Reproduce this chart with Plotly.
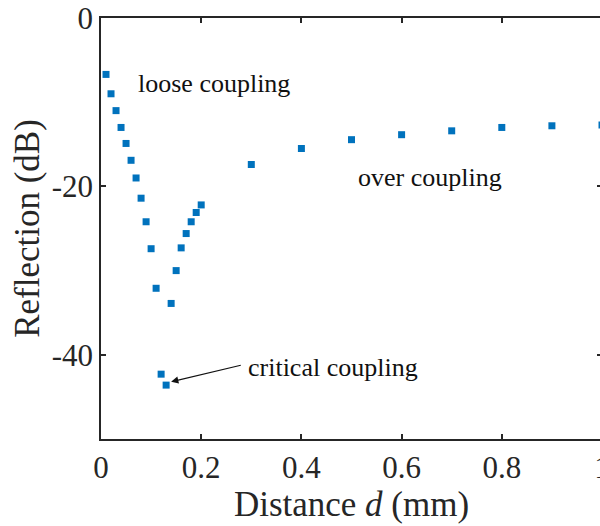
import plotly.graph_objects as go

distance = [0.01, 0.02, 0.03, 0.04, 0.05, 0.06, 0.07, 0.08, 0.09, 0.10,
            0.11, 0.12, 0.13, 0.14, 0.15, 0.16, 0.17, 0.18, 0.19, 0.20,
            0.3, 0.4, 0.5, 0.6, 0.7, 0.8, 0.9, 1.0]
reflection = [-6.7, -9.0, -11.0, -13.0, -14.9, -16.9, -19.0, -21.4, -24.2, -27.4,
              -32.1, -42.3, -43.6, -33.9, -30.0, -27.3, -25.6, -24.2, -23.1, -22.2,
              -17.4, -15.5, -14.45, -13.86, -13.4, -13.0, -12.8, -12.7]
x_ticks = [0, 0.2, 0.4, 0.6, 0.8, 1.0]
x_tick_text = ["0", "0.2", "0.4", "0.6", "0.8", "1"]
y_ticks = [0, -20, -40]
y_tick_text = ["0", "-20", "-40"]

font = "Liberation Serif, Times New Roman, serif"
axcol = "#262626"

fig = go.Figure()
fig.add_trace(go.Scatter(
    x=distance, y=reflection, mode="markers",
    marker=dict(symbol="square", size=7, color="#0072BD", line=dict(width=0)),
    showlegend=False, cliponaxis=False,
))

fig.add_annotation(x=0.070, y=-7.8, xref="x", yref="y", text="loose coupling",
                   showarrow=False, xanchor="left", yanchor="middle",
                   font=dict(family=font, size=26, color="#111111"))
fig.add_annotation(x=0.508, y=-18.9, xref="x", yref="y", text="over coupling",
                   showarrow=False, xanchor="left", yanchor="middle",
                   font=dict(family=font, size=26, color="#111111"))
fig.add_annotation(x=0.289, y=-41.5, xref="x", yref="y", text="critical coupling",
                   showarrow=False, xanchor="left", yanchor="middle",
                   font=dict(family=font, size=26, color="#111111"))
fig.add_annotation(x=0.14, y=-43.2, ax=0.282, ay=-41.2, xref="x", yref="y",
                   axref="x", ayref="y", text="", showarrow=True,
                   arrowhead=2, arrowsize=1.2, arrowwidth=1.2, arrowcolor="#111111")

fig.update_xaxes(range=[0, 1], tickvals=x_ticks, ticktext=x_tick_text,
                 ticks="inside", ticklen=5, tickwidth=1.5, tickcolor=axcol,
                 showline=True, linecolor=axcol, linewidth=1.5, mirror="ticks",
                 showgrid=False, zeroline=False, automargin=False,
                 tickfont=dict(family=font, size=31, color=axcol),
                 title=dict(text="Distance <i>d</i> (mm)", standoff=4,
                            font=dict(family=font, size=35, color=axcol)))
fig.update_yaxes(range=[-50, 0], tickvals=y_ticks, ticktext=y_tick_text,
                 ticks="inside", ticklen=5, tickwidth=1.5, tickcolor=axcol,
                 showline=True, linecolor=axcol, linewidth=1.5, mirror="ticks",
                 showgrid=False, zeroline=False, automargin=False,
                 tickfont=dict(family=font, size=31, color=axcol),
                 title=dict(text="Reflection (dB)", standoff=1,
                            font=dict(family=font, size=35, color=axcol)))

fig.update_layout(width=620, height=526, autosize=False,
                  margin=dict(l=101, r=18, t=18, b=87, pad=0),
                  plot_bgcolor="white", paper_bgcolor="white")

fig.write_html("out.html")
